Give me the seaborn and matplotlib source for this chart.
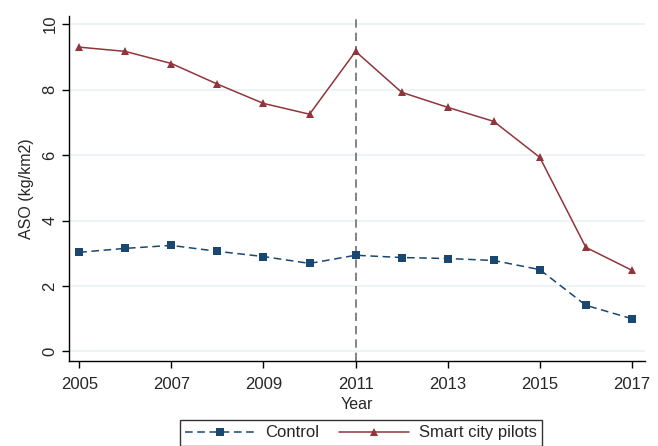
import pandas as pd
import matplotlib.pyplot as plt
import seaborn as sns

years = list(range(2005, 2018))
control = [3.03, 3.15, 3.24, 3.06, 2.90, 2.69, 2.94, 2.87, 2.84, 2.78, 2.50, 1.41, 1.00]
pilots = [9.30, 9.17, 8.80, 8.17, 7.58, 7.25, 9.17, 7.92, 7.46, 7.03, 5.93, 3.18, 2.48]
yticks = [0, 2, 4, 6, 8, 10]
xticks = [2005, 2007, 2009, 2011, 2013, 2015, 2017]
policy_year = 2011

df = pd.DataFrame({
    "Year": years * 2,
    "ASO": control + pilots,
    "group": ["Control"] * len(years) + ["Smart city pilots"] * len(years),
})

sns.set_style("white")
plt.rcParams["font.family"] = ["Liberation Sans", "DejaVu Sans"]

fig = plt.figure(figsize=(6.58, 4.46), dpi=100)
ax = fig.add_axes([0.105, 0.19, 0.875, 0.774])

ax.axvline(policy_year, color="#6e6e6e", ls=(0, (5, 3)), lw=1.2, zorder=1)

sns.lineplot(data=df, x="Year", y="ASO", hue="group", style="group",
             palette={"Control": "#1a476f", "Smart city pilots": "#90353b"},
             dashes={"Control": (5, 3), "Smart city pilots": ""},
             markers={"Control": "s", "Smart city pilots": "^"},
             markersize=6, markeredgewidth=0, lw=1.1, ax=ax, zorder=3)

ax.set_xlim(2004.78, 2017.28)
ax.set_ylim(-0.3, 10.25)
ax.set_xticks(xticks)
ax.set_yticks(yticks)
ax.grid(axis="y", color="#eaf2f3", lw=1.2)
ax.set_axisbelow(True)
for s in ["top", "right"]:
    ax.spines[s].set_visible(False)
for s in ["left", "bottom"]:
    ax.spines[s].set_color("#000000")
    ax.spines[s].set_linewidth(1.0)
ax.tick_params(axis="both", length=5, width=1, color="black", labelsize=12, direction="out",
               bottom=True, left=True)
ax.tick_params(axis="x", pad=6)
for lbl in ax.get_yticklabels():
    lbl.set_rotation(90)
    lbl.set_va("center")
ax.set_xlabel("Year", fontsize=11.5, labelpad=4)
ax.set_ylabel("ASO (kg/km2)", fontsize=11.5, labelpad=6)

handles, labels = ax.get_legend_handles_labels()
leg = ax.legend(handles, labels, loc="upper center", bbox_to_anchor=(0.507, -0.145), ncol=2,
                frameon=True, fancybox=False, edgecolor="black", fontsize=12,
                handlelength=4.2, handletextpad=0.6, columnspacing=1.15, borderpad=0.35)
leg.get_frame().set_linewidth(1.0)

fig.savefig("out.png", dpi=100)
